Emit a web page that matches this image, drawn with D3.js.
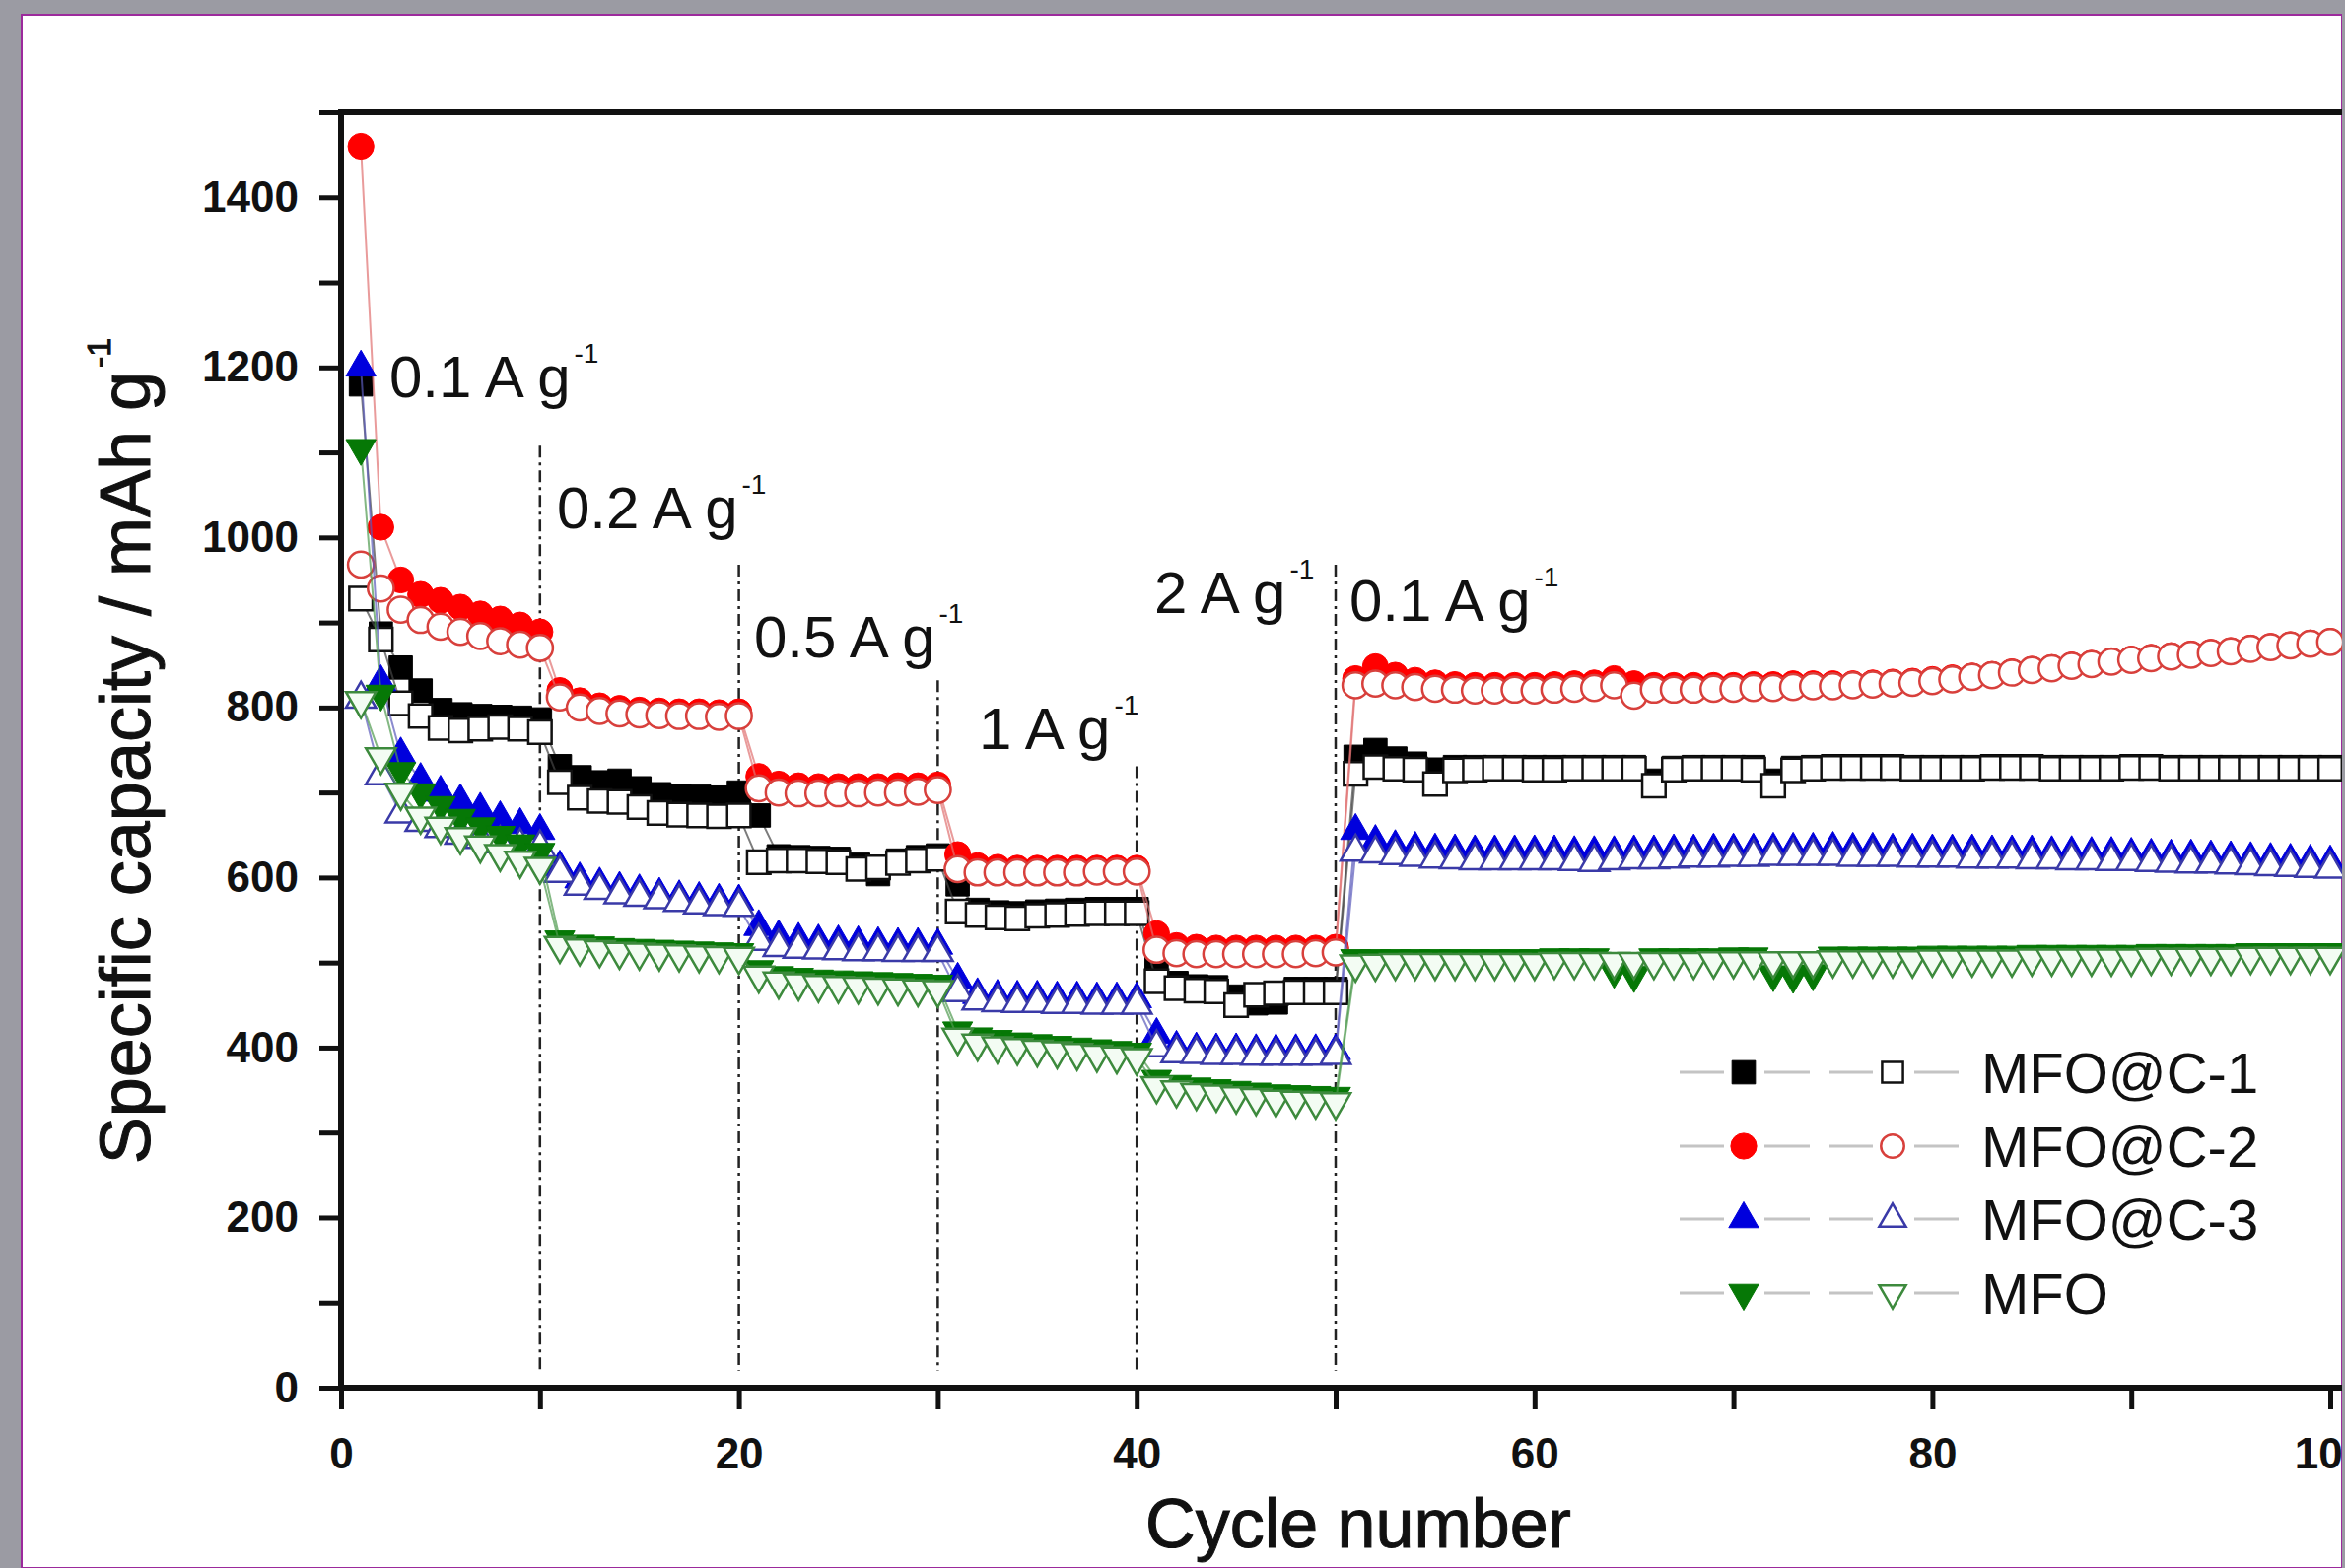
<!DOCTYPE html>
<html>
<head>
<meta charset="utf-8">
<script src="https://cdn.jsdelivr.net/npm/d3@7"></script>
<style>
  html, body { margin: 0; padding: 0; background: #9b9ba3; }
  svg { display: block; }
  text { font-family: "Liberation Sans", Arial, sans-serif; fill: #111; }
</style>
</head>
<body>
<script>
// ---- data ----
const cycles = d3.range(1, 101);

const xTicks = [0, 10, 20, 30, 40, 50, 60, 70, 80, 90, 100];
const xTickLabels = ["0", "", "20", "", "40", "", "60", "", "80", "", "100"];
const yTicks = d3.range(0, 1501, 100);
const yTickLabels = yTicks.map(v => v % 200 === 0 ? String(v) : "");

const seriesNames = ["MFO@C-1", "MFO@C-2", "MFO@C-3", "MFO"];

const rateLabels = ["0.1 A g", "0.2 A g", "0.5 A g", "1 A g", "2 A g", "0.1 A g"];
const rateBoundaries = [10, 20, 30, 40, 50];

// MFO@C-1 (black)
const c1Filled = [1180, 887, 847, 820, 797, 792, 790, 789, 788, 786,
  731, 718, 712, 714, 705, 698, 696, 695, 694, 700,
  673, 625, 624, 623, 622, 615, 604, 620, 624, 626,
  592, 562, 559, 558, 560, 561, 562, 563, 563, 563,
  499, 476, 472, 471, 460, 452, 453, 469, 469, 469,
  742, 750, 740, 734, 727, 730, 730, 730, 730, 730,
  730, 730, 730, 730, 730, 714, 729, 730, 730, 730,
  730, 714, 729, 730, 731, 731, 731, 731, 730, 730,
  730, 730, 731, 731, 731, 730, 730, 730, 730, 731,
  731, 730, 730, 730, 730, 730, 730, 730, 730, 730];
const c1Open = [928, 880, 805, 790, 776, 773, 775, 777, 775, 771,
  712, 694, 690, 689, 683, 676, 674, 673, 672, 673,
  618, 620, 620, 619, 618, 610, 612, 617, 620, 622,
  560, 556, 553, 552, 555, 556, 557, 558, 558, 558,
  478, 470, 467, 466, 450, 462, 464, 465, 465, 465,
  722, 730, 728, 727, 710, 726, 727, 728, 728, 727,
  727, 728, 728, 728, 728, 708, 727, 728, 728, 728,
  727, 708, 726, 728, 729, 729, 729, 729, 728, 728,
  728, 728, 729, 729, 729, 728, 728, 728, 728, 729,
  729, 728, 728, 728, 728, 728, 728, 728, 728, 728];

// MFO@C-2 (red)
const c2Filled = [1460, 1012, 950, 933, 926, 918, 910, 904, 897, 889,
  820, 808, 802, 799, 797, 796, 795, 795, 794, 795,
  719, 710, 708, 707, 707, 707, 707, 708, 708, 709,
  627, 614, 612, 611, 611, 611, 611, 611, 611, 611,
  534, 520, 518, 517, 517, 517, 517, 517, 517, 518,
  834, 848, 838, 832, 829, 827, 826, 826, 826, 826,
  827, 828, 829, 834, 828, 826, 826, 826, 826, 826,
  827, 827, 828, 828, 828, 828, 829, 830, 831, 833,
  835, 837, 839, 842, 845, 847, 850, 852, 855, 857,
  859, 861, 863, 865, 867, 870, 872, 874, 876, 878];
const c2Open = [968, 940, 915, 903, 895, 889, 884, 878, 874, 870,
  812, 800, 796, 793, 792, 791, 790, 790, 789, 790,
  705, 700, 699, 699, 699, 699, 700, 700, 701, 703,
  610, 606, 606, 606, 606, 606, 606, 607, 607, 607,
  515, 511, 510, 510, 510, 510, 510, 510, 511, 512,
  826, 828, 826, 824, 822, 821, 820, 820, 821, 820,
  821, 822, 823, 826, 814, 821, 821, 821, 822, 822,
  823, 823, 824, 825, 825, 826, 827, 828, 829, 831,
  833, 836, 838, 841, 844, 846, 849, 851, 854, 856,
  858, 860, 862, 864, 866, 869, 871, 873, 875, 877];

// MFO@C-3 (blue)
const c3Filled = [1200, 830, 745, 715, 700, 690, 680, 670, 662, 655,
  612, 598, 592, 587, 584, 580, 577, 575, 573, 572,
  542, 530, 527, 525, 524, 523, 522, 521, 521, 520,
  480, 462, 460, 459, 459, 458, 458, 457, 457, 457,
  415, 400, 398, 397, 397, 396, 396, 396, 396, 396,
  655, 642, 636, 634, 632, 631, 630, 630, 630, 630,
  630, 629, 629, 629, 630, 630, 631, 631, 632, 632,
  632, 633, 633, 633, 634, 633, 633, 632, 632, 631,
  631, 631, 630, 630, 630, 629, 629, 628, 628, 627,
  626, 625, 625, 624, 623, 622, 621, 620, 619, 618];
const c3Open = [810, 720, 675, 665, 658, 650, 645, 640, 637, 635,
  605, 590, 585, 580, 577, 574, 571, 568, 566, 565,
  525, 518, 516, 515, 514, 513, 513, 512, 512, 512,
  465, 455, 453, 452, 452, 451, 451, 450, 450, 450,
  400, 393, 392, 391, 391, 390, 390, 390, 390, 391,
  630, 628, 626, 624, 622, 621, 620, 620, 620, 620,
  620, 619, 618, 620, 621, 621, 622, 623, 623, 624,
  624, 625, 625, 625, 625, 624, 624, 624, 623, 623,
  623, 622, 622, 622, 621, 621, 620, 620, 619, 619,
  618, 617, 616, 616, 615, 614, 613, 612, 611, 610];

// MFO (green)
const mfoFilled = [1105, 816, 725, 700, 685, 670, 660, 650, 640, 630,
  527, 522, 520, 518, 517, 516, 515, 514, 513, 512,
  492, 485, 483, 481, 480, 479, 478, 477, 476, 475,
  420, 413, 410, 407, 405, 403, 401, 399, 397, 395,
  363, 357, 354, 352, 350, 348, 346, 345, 344, 343,
  505, 505, 505, 505, 505, 505, 505, 505, 505, 505,
  506, 506, 506, 490, 485, 506, 506, 506, 506, 507,
  507, 486, 484, 487, 508, 508, 508, 508, 508, 509,
  509, 509, 509, 509, 510, 510, 510, 510, 510, 510,
  511, 511, 511, 511, 511, 512, 512, 512, 512, 512];
const mfoOpen = [808, 742, 700, 672, 660, 648, 638, 628, 620, 613,
  520, 517, 515, 513, 512, 511, 510, 509, 508, 507,
  485, 478, 476, 474, 473, 472, 471, 470, 469, 468,
  412, 405, 402, 400, 398, 396, 394, 392, 390, 388,
  355, 350, 347, 345, 343, 341, 339, 338, 337, 336,
  498, 499, 500, 500, 500, 500, 500, 500, 500, 500,
  501, 501, 501, 501, 501, 501, 501, 501, 502, 502,
  502, 502, 502, 502, 503, 503, 503, 503, 503, 504,
  504, 504, 504, 504, 505, 505, 505, 505, 505, 505,
  506, 506, 506, 506, 506, 507, 507, 507, 507, 507];

// ---- layout ----
const W = 2379, H = 1591;
const plotLeft = 346, plotRight = 2364, plotTop = 114, plotBottom = 1408;

const svg = d3.select("body").append("svg")
  .attr("width", W)
  .attr("height", H);

// page frame
svg.append("rect").attr("x", 0).attr("y", 0).attr("width", W).attr("height", H).attr("fill", "#9b9ba3");
svg.append("rect").attr("x", 22).attr("y", 15).attr("width", W - 25).attr("height", H - 15)
  .attr("fill", "#fff").attr("stroke", "#9c2a9c").attr("stroke-width", 2);

const x = d3.scaleLinear().domain([0, 100]).range([plotLeft, plotRight]);
const y = d3.scaleLinear().domain([0, 1500]).range([plotBottom, plotTop]);

// axes
const xAxis = d3.axisBottom(x)
  .tickValues(xTicks)
  .tickFormat((d, i) => xTickLabels[i])
  .tickSize(22).tickPadding(29).tickSizeOuter(0);
const yAxis = d3.axisLeft(y)
  .tickValues(yTicks)
  .tickFormat((d, i) => yTickLabels[i])
  .tickSize(22).tickPadding(21).tickSizeOuter(0);

const gx = svg.append("g").attr("transform", "translate(0," + plotBottom + ")").call(xAxis);
const gy = svg.append("g").attr("transform", "translate(" + plotLeft + ",0)").call(yAxis);
[gx, gy].forEach(g => {
  g.select(".domain").remove();
  g.selectAll(".tick line").attr("stroke", "#111").attr("stroke-width", 5);
  g.selectAll(".tick text")
    .style("font-family", "Liberation Sans, Arial, sans-serif")
    .style("font-size", "44px")
    .style("font-weight", "bold")
    .attr("fill", "#111");
});

// frame lines
svg.append("line").attr("x1", plotLeft).attr("x2", W).attr("y1", plotBottom).attr("y2", plotBottom)
  .attr("stroke", "#111").attr("stroke-width", 6);
svg.append("line").attr("x1", plotLeft - 3).attr("x2", W).attr("y1", plotTop).attr("y2", plotTop)
  .attr("stroke", "#111").attr("stroke-width", 6);
svg.append("line").attr("x1", plotLeft).attr("x2", plotLeft).attr("y1", plotTop).attr("y2", plotBottom + 3)
  .attr("stroke", "#111").attr("stroke-width", 6);

// axis titles
svg.append("text")
  .attr("x", 1378).attr("y", 1570)
  .attr("text-anchor", "middle")
  .style("font-size", "70px")
  .attr("stroke", "#111").attr("stroke-width", 1)
  .text("Cycle number");

const yt = svg.append("text")
  .attr("transform", "translate(152,762) rotate(-90)")
  .attr("text-anchor", "middle")
  .style("font-size", "72px")
  .attr("stroke", "#111").attr("stroke-width", 1);
yt.append("tspan").text("Specific capacity / mAh g");
yt.append("tspan").attr("dy", -40).attr("dx", 4).style("font-size", "34px").text("-1");

// rate change dividers (top end in capacity units)
const dividerTops = [1108, 968, 832, 731, 968];
svg.selectAll(".divider")
  .data(rateBoundaries)
  .enter().append("line")
  .attr("class", "divider")
  .attr("x1", d => x(d)).attr("x2", d => x(d))
  .attr("y1", (d, i) => y(dividerTops[i]))
  .attr("y2", y(20))
  .attr("stroke", "#222")
  .attr("stroke-width", 2.5)
  .attr("stroke-dasharray", "12,5,3,5");

// rate labels
const rateLabelPos = [[395, 403], [565, 536], [765, 667], [993, 760], [1171, 622], [1369, 630]];
rateLabels.forEach((lab, i) => {
  const t = svg.append("text")
    .attr("x", rateLabelPos[i][0]).attr("y", rateLabelPos[i][1])
    .style("font-size", "60px");
  t.append("tspan").text(lab);
  t.append("tspan").attr("dy", -35).attr("dx", 4).style("font-size", "28px").text("-1");
});

// series
const series = [
  { name: seriesNames[0], filled: c1Filled, open: c1Open, type: d3.symbolSquare, size: 560, flip: false,
    fill: "#000", stroke: "#111", line: "#444", openFill: "#fff" },
  { name: seriesNames[1], filled: c2Filled, open: c2Open, type: d3.symbolCircle, size: 540, flip: false,
    fill: "#ff0000", stroke: "#d8403c", line: "#e07070", openFill: "#fff" },
  { name: seriesNames[2], filled: c3Filled, open: c3Open, type: d3.symbolTriangle, size: 400, flip: false,
    fill: "#0000dd", stroke: "#3a3aa8", line: "#5a5abb", openFill: "#fff" },
  { name: seriesNames[3], filled: mfoFilled, open: mfoOpen, type: d3.symbolTriangle, size: 400, flip: true,
    fill: "#067806", stroke: "#3d8a3d", line: "#4f9a4f", openFill: "#f3fcf3" }
];

const lineGen = d3.line().x((d, i) => x(cycles[i])).y(d => y(d));

function drawSet(s, vals, isOpen) {
  const g = svg.append("g");
  g.append("path")
    .attr("d", lineGen(vals))
    .attr("fill", "none")
    .attr("stroke", s.line)
    .attr("stroke-opacity", 0.7)
    .attr("stroke-width", 2);
  const sym = d3.symbol().type(s.type).size(s.size)();
  g.selectAll("path.m")
    .data(vals)
    .enter().append("path")
    .attr("class", "m")
    .attr("d", sym)
    .attr("transform", (d, i) => "translate(" + x(cycles[i]) + "," + y(d) + ")" + (s.flip ? " rotate(180)" : ""))
    .attr("fill", isOpen ? s.openFill : s.fill)
    .attr("stroke", isOpen ? s.stroke : s.fill)
    .attr("stroke-width", isOpen ? 2.5 : 1);
}

series.forEach(s => {
  drawSet(s, s.filled, false);
  drawSet(s, s.open, true);
});

// legend
const legendRowsY = [1088, 1163, 1237, 1312];
const lg = svg.append("g");
series.forEach((s, i) => {
  const ry = legendRowsY[i];
  [[1704, 1749], [1790, 1836], [1856, 1900], [1942, 1987]].forEach(seg => {
    lg.append("line").attr("x1", seg[0]).attr("x2", seg[1]).attr("y1", ry).attr("y2", ry)
      .attr("stroke", "#c4c4c4").attr("stroke-width", 3);
  });
  const sym = d3.symbol().type(s.type).size(s.size)();
  lg.append("path").attr("d", sym)
    .attr("transform", "translate(1769," + ry + ")" + (s.flip ? " rotate(180)" : ""))
    .attr("fill", s.fill).attr("stroke", s.fill);
  lg.append("path").attr("d", d3.symbol().type(s.type).size(s.size * 0.8)())
    .attr("transform", "translate(1920," + ry + ")" + (s.flip ? " rotate(180)" : ""))
    .attr("fill", "#fff").attr("stroke", s.stroke).attr("stroke-width", 2.5);
  lg.append("text")
    .attr("x", 2010).attr("y", ry + 21)
    .style("font-size", "58px")
    .text(s.name);
});

// thin strip at the right edge
svg.append("rect").attr("x", W - 3).attr("y", 0).attr("width", 3).attr("height", H).attr("fill", "#9b9ba3");
</script>
</body>
</html>
